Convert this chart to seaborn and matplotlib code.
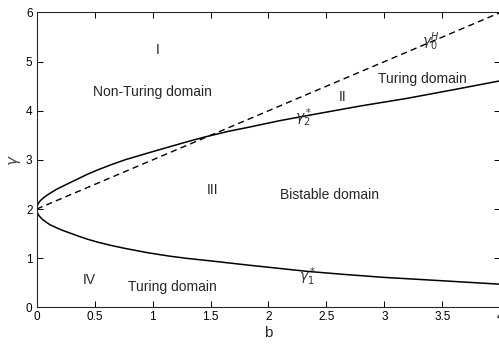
import matplotlib
matplotlib.use("Agg")
import matplotlib.pyplot as plt
import seaborn as sns
import numpy as np
import pandas as pd

# data
upper_b = [0.0, 0.002, 0.005, 0.01, 0.02, 0.03, 0.045, 0.06, 0.085, 0.115, 0.17, 0.23, 0.30, 0.37, 0.44, 0.52,
           0.64, 0.76, 0.86, 0.96, 1.15, 1.3, 1.44, 1.65, 1.84, 2.1, 2.4, 2.8, 3.19, 3.6, 4.0]
upper_g = [2.0, 2.043, 2.067, 2.095, 2.135, 2.165, 2.20, 2.23, 2.275, 2.32, 2.40, 2.47, 2.55, 2.63, 2.71, 2.79,
           2.90, 3.0, 3.07, 3.14, 3.27, 3.37, 3.46, 3.58, 3.67, 3.80, 3.93, 4.10, 4.25, 4.43, 4.61]
lower_b = [0.0, 0.002, 0.005, 0.01, 0.02, 0.03, 0.045, 0.06, 0.085, 0.115, 0.17, 0.23, 0.30, 0.37, 0.44, 0.52,
           0.64, 0.76, 0.86, 0.96, 1.15, 1.3, 1.5, 1.65, 1.84, 2.1, 2.34, 2.65, 2.99, 3.5, 4.0]
lower_g = [2.0, 1.957, 1.933, 1.905, 1.866, 1.837, 1.80, 1.772, 1.727, 1.68, 1.62, 1.56, 1.50, 1.44, 1.385, 1.33,
           1.26, 1.20, 1.155, 1.11, 1.04, 0.995, 0.945, 0.905, 0.855, 0.79, 0.73, 0.67, 0.61, 0.54, 0.47]
hopf_b = [0.0, 4.0]
hopf_g = [2.0, 6.0]
xticks = [0, 0.5, 1, 1.5, 2, 2.5, 3, 3.5, 4]
xtick_labels = ["0", "0.5", "1", "1.5", "2", "2.5", "3", "3.5", "4"]
yticks = [0, 1, 2, 3, 4, 5, 6]

sns.set_style("ticks")
plt.rcParams['font.family'] = ['Liberation Sans', 'DejaVu Sans']
plt.rcParams['mathtext.fontset'] = 'dejavusans'

fig = plt.figure(figsize=(4.99, 3.47), dpi=100)
ax = fig.add_axes([0.0735, 0.1144, 0.9291, 0.8496])

curve = pd.DataFrame({
    "b": list(lower_b[::-1]) + list(upper_b[1:]),
    "g": list(lower_g[::-1]) + list(upper_g[1:]),
})
sns.lineplot(data=curve, x="b", y="g", sort=False, estimator=None, color="black", lw=1.1, ax=ax)
ax.lines[-1].set_solid_joinstyle("round")
hopf = pd.DataFrame({"b": hopf_b, "g": hopf_g})
sns.lineplot(data=hopf, x="b", y="g", sort=False, estimator=None, color="black", lw=1.0, ax=ax)
ax.lines[-1].set_dashes([4.5, 3])

ax.set_xlim(0, 4)
ax.set_ylim(0, 6)
ax.set_xticks(xticks)
ax.set_xticklabels(xtick_labels)
ax.set_yticks(yticks)
ax.tick_params(direction="in", length=4, width=0.7, labelsize=8.5, top=True, right=True, colors="black", pad=3)
for s in ax.spines.values():
    s.set_visible(True)
    s.set_linewidth(0.8)
ax.set_xlabel("b", fontsize=11, labelpad=2)
ax.set_ylabel(r"$\gamma$", fontsize=11, labelpad=2, color="#444444")

fs = 10
ax.text(1.04, 5.23, "I", fontsize=fs, ha="center", va="center")
ax.text(1.0, 4.38, "Non-Turing domain", fontsize=fs, ha="center", va="center")
ax.text(2.64, 4.29, "II", fontsize=fs, ha="center", va="center")
ax.text(3.33, 4.64, "Turing domain", fontsize=fs, ha="center", va="center")
ax.text(1.52, 2.38, "III", fontsize=fs, ha="center", va="center")
ax.text(2.53, 2.28, "Bistable domain", fontsize=fs, ha="center", va="center")
ax.text(0.45, 0.56, "IV", fontsize=fs, ha="center", va="center")
ax.text(1.17, 0.41, "Turing domain", fontsize=fs, ha="center", va="center")
ax.text(2.30, 3.85, r"$\gamma^*_2$", fontsize=fs, ha="center", va="center", color="#333333")
ax.text(2.34, 0.62, r"$\gamma^*_1$", fontsize=fs, ha="center", va="center", color="#333333")
ax.text(3.40, 5.40, r"$\gamma^H_0$", fontsize=fs, ha="center", va="center", color="#333333")

fig.savefig("out.png", dpi=100)
